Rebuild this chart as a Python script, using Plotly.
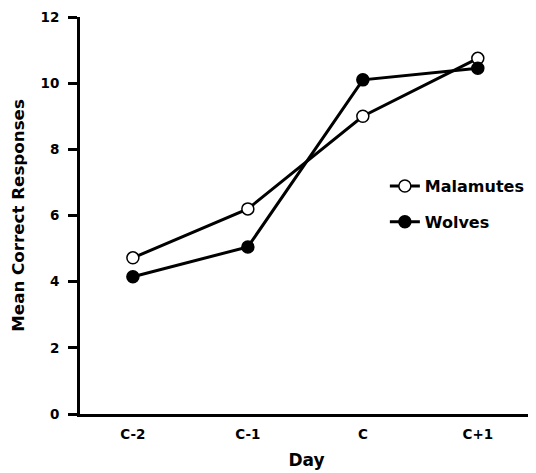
import plotly.graph_objects as go

days = ["C-2", "C-1", "C", "C+1"]
malamutes = [4.72, 6.2, 9.0, 10.75]
wolves = [4.15, 5.05, 10.1, 10.45]
y_ticks = [0, 2, 4, 6, 8, 10, 12]

FONT = "DejaVu Sans, Liberation Sans, Arial, sans-serif"

fig = go.Figure()
fig.add_trace(go.Scatter(
    x=days, y=malamutes, name="<b>Malamutes</b>", mode="lines+markers",
    line=dict(color="black", width=3),
    marker=dict(symbol="circle", size=12, color="white", line=dict(color="black", width=1.5)),
    legendgroup="m",
))
fig.add_trace(go.Scatter(
    x=days, y=wolves, name="<b>Wolves</b>", mode="lines+markers",
    line=dict(color="black", width=3),
    marker=dict(symbol="circle", size=12, color="black", line=dict(color="black", width=1.5)),
    legendgroup="w",
))

# the page body has an 8px margin, so the figure is sized and offset to compensate
fig.update_layout(
    width=528, height=465,
    margin=dict(l=72, r=3, t=9, b=59),
    paper_bgcolor="white", plot_bgcolor="white",
    font=dict(family=FONT, color="black", size=14),
    showlegend=True,
    legend=dict(
        x=0.673, y=0.617, xanchor="left", yanchor="top",
        font=dict(family=FONT, size=16, color="black"),
        bgcolor="rgba(0,0,0,0)", traceorder="grouped", tracegroupgap=12,
    ),
    xaxis=dict(
        type="category", range=[-0.46, 3.48], automargin=False,
        showline=True, linecolor="black", linewidth=3,
        showgrid=False, zeroline=False,
        ticks="outside", ticklen=6, tickcolor="rgba(0,0,0,0)",
        tickfont=dict(family=FONT, size=13.5),
        tickvals=days, ticktext=["<b>%s</b>" % d for d in days],
        title=dict(text="<b>Day</b>", font=dict(family=FONT, size=17), standoff=13),
    ),
    yaxis=dict(
        range=[0, 12], tickvals=y_ticks, automargin=False,
        ticktext=["<b>%d</b>" % v for v in y_ticks],
        showline=True, linecolor="black", linewidth=3,
        showgrid=False, zeroline=False,
        ticks="outside", ticklen=9, tickwidth=3, tickcolor="black",
        ticklabelstandoff=6,
        tickfont=dict(family=FONT, size=13.5),
        title=dict(text="<b>Mean Correct Responses</b>", font=dict(family=FONT, size=16.7), standoff=14),
    ),
)

fig.write_html("out.html")
